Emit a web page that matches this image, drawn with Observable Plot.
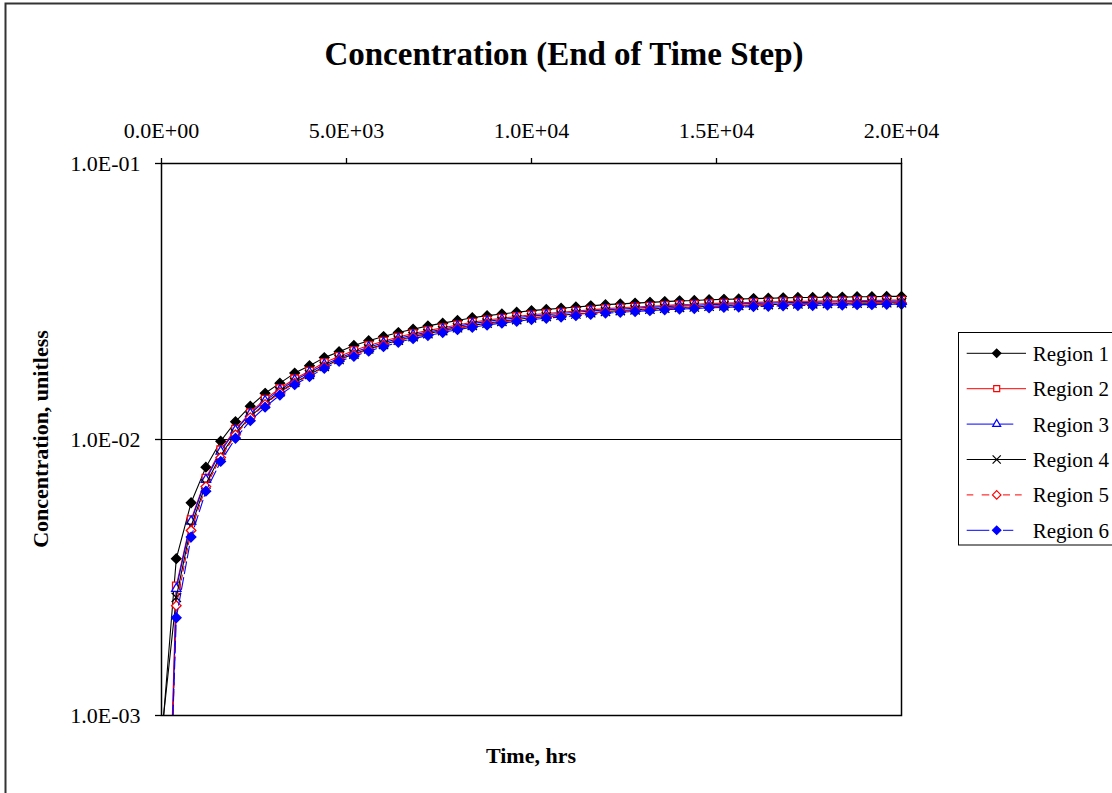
<!DOCTYPE html>
<html>
<head>
<meta charset="utf-8">
<script src="https://cdn.jsdelivr.net/npm/d3@7"></script>
<script src="https://cdn.jsdelivr.net/npm/@observablehq/plot@0.6"></script>
<style>
  body { margin: 0; background: #fff; }
  #wrap { position: relative; width: 1112px; height: 793px; overflow: hidden; background: #fff; }
</style>
</head>
<body>
<div id="wrap"></div>
<script>
// ---- data ----
const titleText = "Concentration (End of Time Step)";
const xLabelText = "Time, hrs";
const yLabelText = "Concentration, unitless";
const regions = ["Region 1", "Region 2", "Region 3", "Region 4", "Region 5", "Region 6"];
const times = [0,400,800,1200,1600,2000,2400,2800,3200,3600,4000,4400,4800,5200,5600,6000,6400,6800,7200,7600,8000,8400,8800,9200,9600,10000,10400,10800,11200,11600,12000,12400,12800,13200,13600,14000,14400,14800,15200,15600,16000,16400,16800,17200,17600,18000,18400,18800,19200,19600,20000];
const r1 = [0.0008,0.0037,0.0059,0.00794,0.00986,0.0116,0.0132,0.0147,0.0160,0.0174,0.0185,0.0198,0.0208,0.0219,0.0228,0.0236,0.0244,0.0251,0.0258,0.0264,0.0270,0.0276,0.0281,0.0285,0.0289,0.0293,0.0296,0.0299,0.0302,0.0305,0.0308,0.0310,0.0312,0.0314,0.0316,0.0318,0.0319,0.0321,0.0322,0.0323,0.0324,0.0325,0.0326,0.0327,0.0327,0.0328,0.0328,0.0329,0.0329,0.0330,0.0330];
const r2 = [0.00005,0.00295,0.00512,0.00724,0.00918,0.0109,0.0125,0.0140,0.0153,0.0166,0.0177,0.0190,0.0200,0.0210,0.0219,0.0227,0.0235,0.0242,0.0248,0.0254,0.0260,0.0266,0.0271,0.0275,0.0279,0.0283,0.0286,0.0289,0.0292,0.0295,0.0298,0.0300,0.0302,0.0304,0.0306,0.0308,0.0309,0.0311,0.0312,0.0313,0.0314,0.0315,0.0316,0.0317,0.0317,0.0318,0.0318,0.0319,0.0319,0.0320,0.0320];
const r3 = [0.00003,0.00288,0.00505,0.00715,0.00905,0.0108,0.0124,0.0138,0.0151,0.0164,0.0175,0.0187,0.0197,0.0207,0.0216,0.0224,0.0232,0.0239,0.0245,0.0251,0.0257,0.0263,0.0268,0.0272,0.0276,0.0280,0.0283,0.0286,0.0289,0.0292,0.0295,0.0297,0.0299,0.0301,0.0303,0.0305,0.0306,0.0308,0.0309,0.0310,0.0311,0.0312,0.0313,0.0314,0.0314,0.0315,0.0315,0.0316,0.0316,0.0317,0.0317];
const r4 = [0.00085,0.00268,0.00485,0.0069,0.00875,0.0105,0.0121,0.0135,0.0149,0.0161,0.0172,0.0184,0.0195,0.0204,0.0213,0.0221,0.0229,0.0236,0.0242,0.0248,0.0254,0.0259,0.0264,0.0268,0.0272,0.0276,0.0279,0.0282,0.0285,0.0288,0.0291,0.0293,0.0295,0.0297,0.0299,0.0301,0.0302,0.0304,0.0305,0.0306,0.0307,0.0308,0.0309,0.0310,0.0310,0.0311,0.0311,0.0312,0.0312,0.0313,0.0313];
const r5 = [0.00004,0.0025,0.00468,0.00675,0.0086,0.0104,0.0120,0.0134,0.0148,0.0160,0.0171,0.0183,0.0194,0.0203,0.0212,0.0220,0.0228,0.0235,0.0241,0.0247,0.0253,0.0258,0.0263,0.0267,0.0271,0.0275,0.0278,0.0281,0.0284,0.0287,0.0290,0.0292,0.0294,0.0296,0.0298,0.0300,0.0301,0.0303,0.0304,0.0305,0.0306,0.0307,0.0308,0.0309,0.0309,0.0310,0.0310,0.0311,0.0311,0.0312,0.0312];
const r6 = [0.00006,0.00226,0.00443,0.0065,0.00833,0.0101,0.0117,0.0131,0.0145,0.0158,0.0169,0.0181,0.0192,0.0200,0.0209,0.0217,0.0225,0.0232,0.0238,0.0244,0.0250,0.0255,0.0260,0.0264,0.0268,0.0272,0.0275,0.0278,0.0281,0.0284,0.0287,0.0289,0.0291,0.0293,0.0295,0.0297,0.0298,0.0300,0.0301,0.0302,0.0303,0.0304,0.0305,0.0306,0.0306,0.0307,0.0307,0.0308,0.0308,0.0309,0.0309];
const xTicks = [0, 5000, 10000, 15000, 20000];
const xTickLabels = ["0.0E+00", "5.0E+03", "1.0E+04", "1.5E+04", "2.0E+04"];
const yTicks = [0.001, 0.01, 0.1];
const yTickLabels = ["1.0E-03", "1.0E-02", "1.0E-01"];

// ---- styles ----
const FONT = "'Liberation Serif','Times New Roman',Times,serif";
const styles = [
  {color: "black", dash: null,   symbol: "diamond2",  fill: "black", stroke: "black", r: 4.3},
  {color: "red",   dash: null,   symbol: "square2",   fill: "white", stroke: "red",   r: 4.8},
  {color: "blue",  dash: null,   symbol: "triangle2", fill: "white", stroke: "blue",  r: 4.5},
  {color: "black", dash: null,   symbol: "times",     fill: "none",  stroke: "black", r: 4.3},
  {color: "red",   dash: "5,4",  symbol: "diamond2",  fill: "white", stroke: "red",   r: 4.3},
  {color: "blue",  dash: "12,4", symbol: "diamond2",  fill: "blue",  stroke: "blue",  r: 4.3}
];
const legendSegments = [
  [[966.7, 1026]],
  [[966.7, 1026]],
  [[966.7, 1013.3]],
  [[966.7, 1026]],
  [[966.7, 973.3], [981.7, 989.3], [1003, 1010], [1015, 1021.7]],
  [[966.7, 989.3], [1003, 1013.3]]
];

const series = [r1, r2, r3, r4, r5, r6];
const rows = [];
regions.forEach((name, k) => times.forEach((t, i) => rows.push({region: name, t, c: series[k][i]})));

const xFmt = new Map(xTicks.map((t, i) => [t, xTickLabels[i]]));
const yFmt = new Map(yTicks.map((t, i) => [t, yTickLabels[i]]));

const marks = [
  Plot.ruleY([0.01], {stroke: "black", strokeWidth: 1}),
  Plot.axisX(xTicks, {anchor: "top", tickSize: 6, tickPadding: 20, tickFormat: d => xFmt.get(d), label: null, stroke: "black", strokeWidth: 1.3, fontSize: 22, fill: "black"}),
  Plot.axisY(yTicks, {anchor: "left", tickSize: 6, tickPadding: 15, tickFormat: d => yFmt.get(d), label: null, stroke: "black", strokeWidth: 1.3, fontSize: 22, fill: "black"})
];
regions.forEach((name, k) => {
  const s = styles[k];
  const d = rows.filter(r => r.region === name);
  marks.push(Plot.line(d, {x: "t", y: "c", stroke: s.color, strokeWidth: 1.1, strokeDasharray: s.dash, clip: true}));
  marks.push(Plot.dot(d, {x: "t", y: "c", filter: r => r.t > 0, symbol: s.symbol, r: s.r, fill: s.fill, stroke: s.stroke, strokeWidth: 1.3}));
});
marks.push(Plot.frame({stroke: "black", strokeWidth: 1.5}));

const svg = Plot.plot({
  width: 1112,
  height: 793,
  marginLeft: 161,
  marginRight: 211,
  marginTop: 163,
  marginBottom: 78,
  x: {domain: [0, 20000]},
  y: {type: "log", domain: [0.001, 0.1]},
  style: {fontFamily: FONT, fontSize: "22px", color: "black", background: "white", overflow: "visible"},
  marks
});
document.getElementById("wrap").appendChild(svg);

const root = d3.select(svg);
// outer chart border
root.insert("rect", ":first-child")
  .attr("x", 5.5).attr("y", 3.5).attr("width", 1200).attr("height", 900)
  .attr("fill", "white").attr("stroke", "#333").attr("stroke-width", 2);

// title and axis titles
root.append("text").attr("x", 564).attr("y", 65).attr("text-anchor", "middle")
  .attr("font-family", FONT).attr("font-weight", "bold").attr("font-size", 33).attr("fill", "black")
  .text(titleText);
root.append("text").attr("x", 531).attr("y", 763).attr("text-anchor", "middle")
  .attr("font-family", FONT).attr("font-weight", "bold").attr("font-size", 22).attr("fill", "black")
  .text(xLabelText);
root.append("text").attr("transform", "translate(48,439) rotate(-90)").attr("text-anchor", "middle")
  .attr("font-family", FONT).attr("font-weight", "bold").attr("font-size", 22).attr("fill", "black")
  .text(yLabelText);

// legend
const lg = root.append("g").attr("text-anchor", "start");
lg.append("rect").attr("x", 958.5).attr("y", 332.5).attr("width", 200).attr("height", 212.5)
  .attr("fill", "white").attr("stroke", "black").attr("stroke-width", 1);
const symMap = {diamond2: d3.symbolDiamond2, square2: d3.symbolSquare2, triangle2: d3.symbolTriangle2, times: d3.symbolTimes};
regions.forEach((name, k) => {
  const s = styles[k];
  const cy = 353.3 + k * 35.4;
  legendSegments[k].forEach(([a, b]) => {
    lg.append("line").attr("x1", a).attr("x2", b).attr("y1", cy).attr("y2", cy)
      .attr("stroke", s.color).attr("stroke-width", 1);
  });
  lg.append("path").attr("transform", `translate(996.7,${cy})`)
    .attr("d", d3.symbol(symMap[s.symbol], Math.PI * 3.8 * 3.8)())
    .attr("fill", s.fill).attr("stroke", s.stroke).attr("stroke-width", 1.2);
  lg.append("text").attr("x", 1032.7).attr("y", cy + 7.5).attr("text-anchor", "start")
    .attr("font-family", FONT).attr("font-size", 21).attr("fill", "black").text(name);
});
</script>
</body>
</html>
